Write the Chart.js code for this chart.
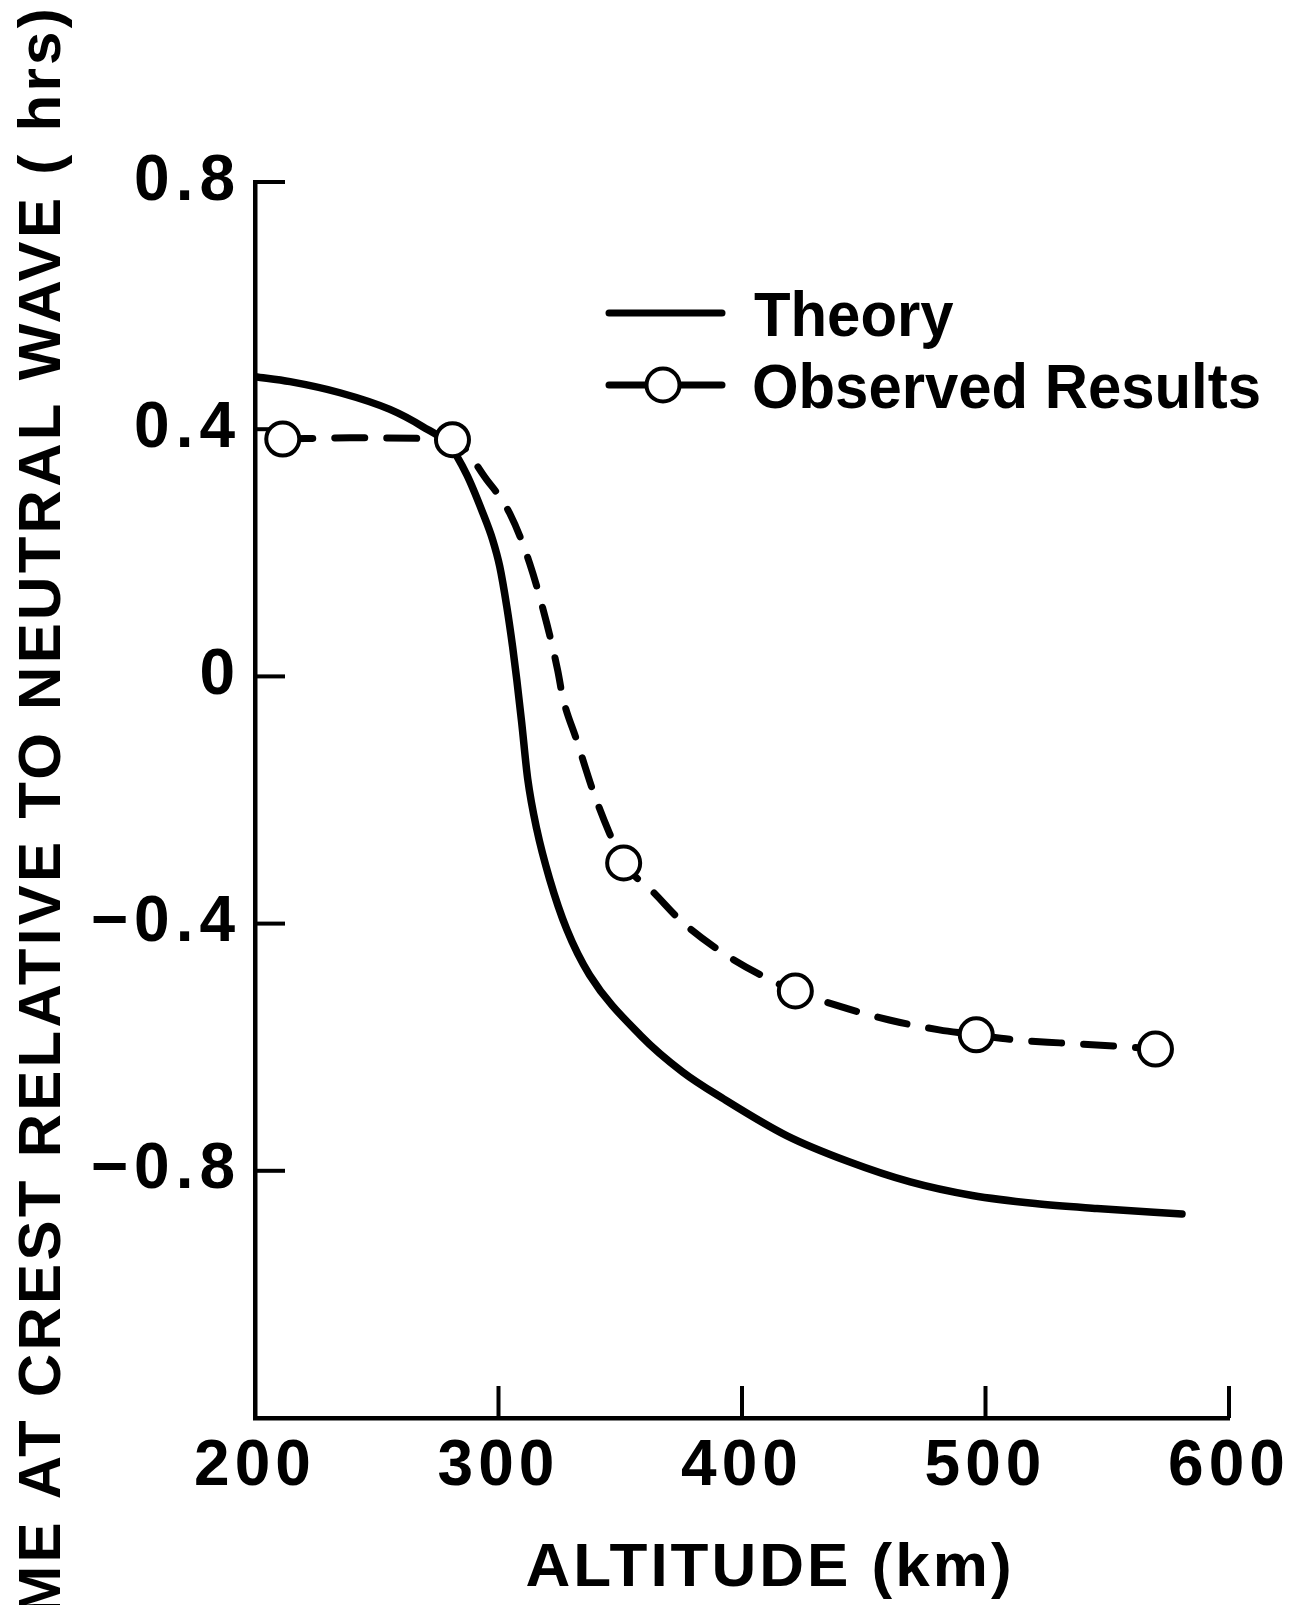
<!DOCTYPE html>
<html>
<head>
<meta charset="utf-8">
<script src="https://cdn.jsdelivr.net/npm/chart.js@4.4.0/dist/chart.umd.min.js"></script>
<style>
html,body{margin:0;padding:0;background:#fff;}
#wrap{width:1289px;height:1605px;position:relative;}
</style>
</head>
<body>
<div id="wrap"><canvas id="c" width="1289" height="1605"></canvas></div>
<script>
// ---- data ----
const theoryAltitude = [200, 214.4, 234.9, 255.4, 268.9, 280.0, 287.0, 293.5, 297.6, 300.5, 303.4, 305.8, 307.5, 309.5, 312.0, 315.7, 321.0, 328.0, 337.4, 358.6, 375.6, 392.6, 418.3, 443.7, 469.1, 494.6, 520.4, 545.8, 580.7];
const theoryTime = [0.485, 0.477, 0.459, 0.432, 0.404, 0.373, 0.326, 0.265, 0.221, 0.178, 0.113, 0.048, -0.005, -0.074, -0.166, -0.247, -0.328, -0.409, -0.483, -0.582, -0.640, -0.684, -0.743, -0.785, -0.818, -0.840, -0.853, -0.861, -0.870];

const observedAltitude = [211.4, 281.1, 351.4, 421.9, 496.2, 569.8];
const observedTime = [0.384, 0.383, -0.302, -0.509, -0.580, -0.603];

const observedCurveAltitude = [211.4, 239.0, 281.1, 295.2, 304.6, 312.8, 319.8, 324.3, 326.4, 332.1, 338.7, 345.6, 351.4, 363.3, 375.6, 392.4, 409.6, 421.9, 438.6, 460.5, 481.0, 496.2, 511.8, 530.5, 552.6, 569.8];
const observedCurveTime = [0.384, 0.386, 0.383, 0.318, 0.264, 0.183, 0.086, 0.010, -0.034, -0.103, -0.184, -0.254, -0.302, -0.348, -0.398, -0.448, -0.487, -0.509, -0.532, -0.556, -0.572, -0.580, -0.588, -0.593, -0.598, -0.603];

const xTickValues = [200, 300, 400, 500, 600];
const xTickLabels = ['200', '300', '400', '500', '600'];
const yTickValues = [0.8, 0.4, 0, -0.4, -0.8];
const yTickLabels = ['0.8', '0.4', '0', '\u22120.4', '\u22120.8'];

const xTitle = 'ALTITUDE (km)';
const yTitle = 'TIME AT CREST RELATIVE TO NEUTRAL WAVE ( hrs)';
const legendLabels = ['Theory', 'Observed Results'];

const FONT = "'Liberation Sans', Arial, sans-serif";

function pts(xs, ys) { return xs.map((x, i) => ({x: x, y: ys[i]})); }

function spacedLabels(scale, ls) {
  if (scale.__spaced) return;
  scale.__spaced = true;
  const orig = Object.getPrototypeOf(scale).drawLabels;
  scale.drawLabels = function (area) {
    const c = this.ctx;
    c.save();
    c.letterSpacing = ls;
    orig.call(this, area);
    c.restore();
  };
}

const decor = {
  id: 'decor',
  beforeDraw(chart) {
    spacedLabels(chart.scales.x, '5px');
    spacedLabels(chart.scales.y, '6px');
  },
  beforeDatasetsDraw(chart) {
    const ctx = chart.ctx;
    const xs = chart.scales.x, ys = chart.scales.y;
    ctx.save();
    ctx.strokeStyle = '#000';
    ctx.lineWidth = 4;
    ctx.lineCap = 'butt';
    xs.ticks.forEach(t => {
      if (t.value === xs.min) return;
      const px = xs.getPixelForValue(t.value);
      ctx.beginPath();
      ctx.moveTo(px, ys.bottom);
      ctx.lineTo(px, ys.bottom - 32);
      ctx.stroke();
    });
    ys.ticks.forEach(t => {
      const py = ys.getPixelForValue(t.value);
      ctx.beginPath();
      ctx.moveTo(xs.left, py);
      ctx.lineTo(xs.left + 30, py);
      ctx.stroke();
    });
    ctx.restore();
  },
  afterDraw(chart) {
    const ctx = chart.ctx;
    ctx.save();
    ctx.fillStyle = '#000';
    ctx.strokeStyle = '#000';
    // legend
    ctx.lineCap = 'round';
    ctx.lineWidth = 7;
    ctx.beginPath(); ctx.moveTo(609, 313); ctx.lineTo(722, 313); ctx.stroke();
    ctx.beginPath(); ctx.moveTo(609, 385); ctx.lineTo(722, 385); ctx.stroke();
    ctx.beginPath(); ctx.arc(663, 385, 16.5, 0, Math.PI * 2);
    ctx.fillStyle = '#fff'; ctx.fill();
    ctx.lineWidth = 4; ctx.stroke();
    ctx.fillStyle = '#000';
    ctx.font = 'bold 63px ' + FONT;
    ctx.textAlign = 'left';
    ctx.textBaseline = 'alphabetic';
    ctx.save();
    ctx.translate(754, 336);
    ctx.scale(0.95, 1);
    ctx.fillText(legendLabels[0], 0, 0);
    ctx.restore();
    ctx.save();
    ctx.translate(752, 408);
    ctx.scale(0.95, 1);
    ctx.fillText(legendLabels[1], 0, 0);
    ctx.restore();
    // x title
    ctx.font = 'bold 62px ' + FONT;
    ctx.letterSpacing = '3px';
    ctx.textAlign = 'center';
    ctx.fillText(xTitle, 770, 1586);
    // y title
    ctx.save();
    ctx.translate(60, 5);
    ctx.rotate(-Math.PI / 2);
    ctx.font = 'bold 60px ' + FONT;
    ctx.letterSpacing = '3.3px';
    ctx.textAlign = 'right';
    ctx.textBaseline = 'alphabetic';
    ctx.fillText(yTitle, 0, 0);
    ctx.restore();
    ctx.restore();
  }
};

new Chart(document.getElementById('c'), {
  type: 'scatter',
  data: {
    datasets: [
      {
        label: legendLabels[1] + ' points',
        data: pts(observedAltitude, observedTime),
        showLine: false,
        pointRadius: 16.5,
        pointHoverRadius: 16.5,
        pointBorderWidth: 4,
        pointBackgroundColor: '#fff',
        pointBorderColor: '#000'
      },
      {
        label: legendLabels[1],
        data: pts(observedCurveAltitude, observedCurveTime),
        showLine: true,
        borderColor: '#000',
        borderWidth: 7,
        borderDash: [30, 22],
        borderCapStyle: 'round',
        pointRadius: 0,
        pointHoverRadius: 0,
        cubicInterpolationMode: 'monotone',
        fill: false
      },
      {
        label: legendLabels[0],
        data: pts(theoryAltitude, theoryTime),
        showLine: true,
        borderColor: '#000',
        borderWidth: 7.5,
        borderCapStyle: 'round',
        pointRadius: 0,
        pointHoverRadius: 0,
        cubicInterpolationMode: 'monotone',
        fill: false
      }
    ]
  },
  options: {
    responsive: false,
    animation: false,
    devicePixelRatio: 1,
    layout: { padding: { left: 0, top: 182, right: 60, bottom: 0 } },
    plugins: { legend: { display: false }, tooltip: { enabled: false } },
    scales: {
      x: {
        type: 'linear',
        min: 200, max: 600,
        afterBuildTicks: s => { s.ticks = xTickValues.map(v => ({value: v})); },
        afterFit: s => { s.height = 187; s.paddingLeft = 0; s.paddingRight = 0; },
        grid: { display: false, drawTicks: false },
        border: { display: true, color: '#000', width: 4.5 },
        ticks: {
          color: '#000',
          padding: 11,
          maxRotation: 0,
          autoSkip: false,
          font: { family: FONT, size: 64, weight: 'bold' },
          callback: (v, i) => xTickLabels[i]
        }
      },
      y: {
        type: 'linear',
        min: -1.2, max: 0.8,
        afterBuildTicks: s => { s.ticks = yTickValues.map(v => ({value: v})); },
        afterFit: s => { s.width = 255; s.paddingTop = 0; s.paddingBottom = 0; },
        grid: { display: false, drawTicks: false },
        border: { display: true, color: '#000', width: 4.5 },
        ticks: {
          color: '#000',
          padding: 14,
          autoSkip: false,
          font: { family: FONT, size: 64, weight: 'bold' },
          callback: (v, i) => yTickLabels[i]
        }
      }
    }
  },
  plugins: [decor]
});
</script>
</body>
</html>
